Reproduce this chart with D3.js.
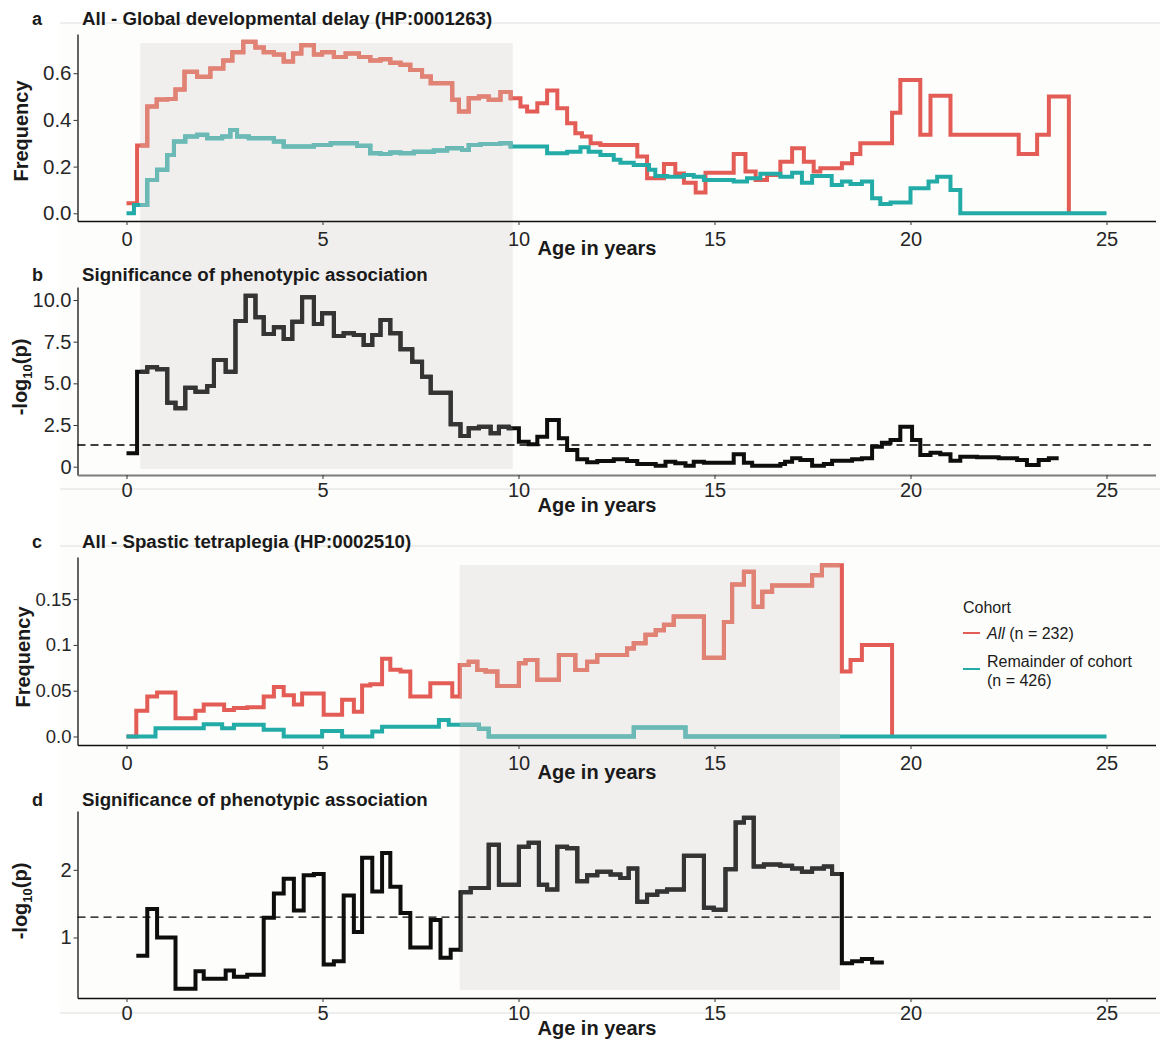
<!DOCTYPE html>
<html><head><meta charset="utf-8">
<script src="https://cdn.jsdelivr.net/npm/d3@7"></script>
<style>
html,body{margin:0;padding:0;background:#fff;}
svg{display:block;font-family:"Liberation Sans",Arial,Helvetica,sans-serif;}
</style></head><body>
<svg id="chart" width="1160" height="1040"></svg>
<script>
// ---------------- data ----------------
const ageTicks = [0, 5, 10, 15, 20, 25];

// Global developmental delay: frequency in the "All" group (step starts, last entry = end)
const ddAgeAll = [0, 0.27, 0.53, 0.77, 1.04, 1.25, 1.48, 1.80, 2.14, 2.47, 2.70, 2.98, 3.29, 3.50, 3.76, 4.01, 4.25, 4.46, 4.78, 4.99,
  5.29, 5.59, 5.93, 6.22, 6.48, 6.73, 6.99, 7.24, 7.54, 7.76, 8.31, 8.48, 8.73, 8.99, 9.24, 9.54, 9.80, 10.05, 10.22, 10.48,
  10.73, 10.99, 11.24, 11.45, 11.62, 11.84, 12.09, 13.03, 13.28, 13.71, 14.00, 14.22, 14.52, 14.77, 15.49, 15.79, 16.05, 16.34, 16.68, 16.98,
  17.28, 17.53, 17.70, 18.25, 18.51, 18.72, 19.53, 19.74, 20.25, 20.51, 21.02, 22.76, 23.23, 23.53, 24.04];
const ddFreqAll = [0.043, 0.29, 0.457, 0.487, 0.49, 0.53, 0.606, 0.585, 0.62, 0.655, 0.69, 0.735, 0.71, 0.69, 0.68, 0.65, 0.685, 0.72, 0.68, 0.69,
  0.67, 0.685, 0.67, 0.655, 0.66, 0.645, 0.636, 0.614, 0.586, 0.557, 0.486, 0.436, 0.493, 0.50, 0.486, 0.52, 0.493, 0.457, 0.436, 0.471,
  0.526, 0.45, 0.386, 0.343, 0.329, 0.30, 0.293, 0.243, 0.15, 0.211, 0.171, 0.131, 0.089, 0.174, 0.254, 0.179, 0.143, 0.164, 0.221, 0.279,
  0.221, 0.179, 0.193, 0.214, 0.254, 0.30, 0.431, 0.571, 0.336, 0.503, 0.336, 0.254, 0.336, 0.50, 0];

// Global developmental delay: frequency in the remainder of the cohort
const ddAgeRest = [0, 0.19, 0.53, 0.78, 1.04, 1.21, 1.50, 1.80, 2.06, 2.44, 2.65, 2.82, 3.12, 3.76, 4.01, 4.78, 5.21, 5.88, 6.22, 6.48,
  6.73, 6.99, 7.33, 7.84, 8.18, 8.56, 8.73, 9.03, 9.54, 9.80, 10.73, 11.24, 11.58, 11.79, 12.09, 12.43, 12.60, 12.94, 13.33, 13.49,
  13.79, 14.22, 14.47, 14.73, 15.49, 15.83, 16.17, 16.68, 16.98, 17.23, 17.49, 17.99, 18.25, 18.47, 18.76, 19.02, 19.23, 19.49, 20.00, 20.46,
  20.68, 21.02, 21.27, 25.00];
const ddFreqRest = [0, 0.036, 0.143, 0.186, 0.25, 0.307, 0.329, 0.336, 0.321, 0.329, 0.357, 0.329, 0.321, 0.307, 0.286, 0.293, 0.30, 0.289, 0.257, 0.254,
  0.26, 0.257, 0.264, 0.269, 0.279, 0.271, 0.293, 0.297, 0.30, 0.286, 0.257, 0.264, 0.283, 0.264, 0.25, 0.229, 0.217, 0.207, 0.186, 0.16,
  0.157, 0.164, 0.157, 0.143, 0.136, 0.15, 0.169, 0.157, 0.174, 0.131, 0.16, 0.121, 0.136, 0.126, 0.136, 0.064, 0.04, 0.046, 0.107, 0.136,
  0.157, 0.10, 0, 0];

// Global developmental delay: -log10(p) of the association
const ddAgeSig = [0, 0.27, 0.53, 0.78, 1.04, 1.25, 1.50, 1.76, 2.06, 2.23, 2.53, 2.78, 3.04, 3.29, 3.50, 3.76, 4.01, 4.23, 4.48, 4.78,
  4.99, 5.29, 5.54, 5.80, 6.05, 6.27, 6.48, 6.73, 6.99, 7.29, 7.54, 7.76, 8.27, 8.52, 8.73, 8.99, 9.29, 9.50, 9.75, 10.01,
  10.26, 10.48, 10.73, 11.03, 11.24, 11.50, 11.75, 12.01, 12.43, 12.77, 13.03, 13.50, 13.75, 14.00, 14.26, 14.47, 14.73, 15.49, 15.75, 15.96,
  16.68, 16.80, 16.98, 17.19, 17.49, 17.79, 18.00, 18.51, 18.76, 19.02, 19.27, 19.49, 19.74, 20.04, 20.25, 20.51, 20.76, 21.02, 21.27, 21.70,
  22.25, 22.72, 22.97, 23.27, 23.53, 23.78];
const ddLogP = [0.8, 5.7, 5.96, 5.84, 3.84, 3.5, 4.74, 4.5, 4.84, 6.4, 5.7, 8.74, 10.26, 8.96, 7.96, 8.36, 7.66, 8.7, 10.16, 8.56,
  9.2, 7.84, 8.0, 7.9, 7.3, 7.9, 8.8, 8.0, 7.04, 6.3, 5.4, 4.44, 2.54, 1.84, 2.3, 2.4, 2.0, 2.4, 2.3, 1.5,
  1.34, 1.8, 2.8, 1.7, 1.0, 0.44, 0.26, 0.34, 0.44, 0.34, 0.16, 0.06, 0.3, 0.2, 0.06, 0.3, 0.24, 0.74, 0.24, 0.06,
  0.16, 0.3, 0.5, 0.4, 0.06, 0.16, 0.36, 0.44, 0.5, 1.2, 1.44, 1.6, 2.4, 1.6, 0.7, 0.84, 0.74, 0.36, 0.6, 0.56,
  0.5, 0.4, 0.1, 0.4, 0.5, 0.5];

// Spastic tetraplegia: frequency in the "All" group
const stAgeAll = [0, 0.25, 0.53, 0.78, 1.25, 1.76, 1.97, 2.49, 2.74, 3.08, 3.50, 3.76, 4.01, 4.27, 4.48, 5.03, 5.50, 5.80, 6.01, 6.22,
  6.52, 6.73, 6.99, 7.24, 7.75, 8.31, 8.50, 8.73, 8.95, 9.16, 9.46, 10.01, 10.18, 10.48, 11.03, 11.45, 11.75, 12.01, 12.77, 12.94,
  13.24, 13.50, 13.71, 13.96, 14.73, 15.24, 15.45, 15.75, 16.00, 16.22, 16.47, 17.49, 17.74, 18.25, 18.47, 18.76, 19.53];
const stFreqAll = [0, 0.028, 0.0436, 0.048, 0.02, 0.028, 0.035, 0.029, 0.031, 0.032, 0.0436, 0.054, 0.045, 0.035, 0.047, 0.0236, 0.04, 0.027, 0.0556, 0.057,
  0.085, 0.073, 0.071, 0.0436, 0.058, 0.0436, 0.078, 0.0817, 0.0726, 0.071, 0.055, 0.08, 0.0835, 0.062, 0.089, 0.0726, 0.0817, 0.089, 0.096, 0.1017,
  0.111, 0.116, 0.122, 0.131, 0.086, 0.125, 0.166, 0.18, 0.1417, 0.158, 0.165, 0.176, 0.187, 0.071, 0.0835, 0.10, 0];

// Spastic tetraplegia: frequency in the remainder of the cohort
const stAgeRest = [0, 0.74, 1.97, 2.44, 2.74, 3.50, 4.01, 4.99, 5.50, 6.27, 6.52, 7.97, 8.22, 8.99, 9.24, 12.94, 14.26, 25.00];
const stFreqRest = [0, 0.009, 0.0134, 0.009, 0.0127, 0.0073, 0, 0.006, 0, 0.0054, 0.0105, 0.018, 0.0127, 0.0084, 0, 0.0098, 0, 0];

// Spastic tetraplegia: -log10(p) of the association
const stAgeSig = [0.25, 0.53, 0.78, 1.25, 1.76, 1.97, 2.53, 2.74, 3.08, 3.50, 3.76, 4.01, 4.27, 4.52, 4.78, 5.03, 5.29, 5.54, 5.80, 6.01,
  6.27, 6.52, 6.73, 6.99, 7.24, 7.76, 8.01, 8.27, 8.52, 8.78, 9.24, 9.50, 10.01, 10.26, 10.52, 10.73, 10.99, 11.24, 11.50, 11.75,
  12.01, 12.35, 12.60, 12.81, 13.03, 13.28, 13.54, 13.79, 14.22, 14.73, 14.98, 15.28, 15.54, 15.75, 16.00, 16.26, 16.68, 16.98, 17.23, 17.49,
  17.79, 18.00, 18.25, 18.51, 18.76, 19.02, 19.32];
const stLogP = [0.73, 1.42, 1.0, 0.24, 0.5, 0.39, 0.51, 0.42, 0.45, 1.29, 1.65, 1.87, 1.4, 1.92, 1.94, 0.6, 0.65, 1.62, 1.08, 2.18,
  1.68, 2.25, 1.75, 1.36, 0.85, 1.26, 0.7, 0.82, 1.67, 1.73, 2.37, 1.78, 2.34, 2.4, 1.78, 1.71, 2.34, 2.32, 1.83, 1.92,
  1.97, 1.93, 1.88, 2.02, 1.53, 1.63, 1.68, 1.71, 2.21, 1.44, 1.41, 2.01, 2.7, 2.77, 2.05, 2.08, 2.06, 2.02, 1.97, 2.02,
  2.05, 1.94, 0.62, 0.65, 0.68, 0.63, 0.63];

// highlighted age windows
const ddWindow = [0.35, 9.85];
const stWindow = [8.5, 18.2];

// significance threshold p = 0.05
const pThreshold = 0.05;

// y tick values and their printed labels
const ddFreqTicks = [0, 0.2, 0.4, 0.6];
const ddFreqLabels = ["0.0", "0.2", "0.4", "0.6"];
const ddSigTicks = [0, 2.5, 5, 7.5, 10];
const ddSigLabels = ["0", "2.5", "5.0", "7.5", "10.0"];
const stFreqTicks = [0, 0.05, 0.1, 0.15];
const stFreqLabels = ["0.0", "0.05", "0.1", "0.15"];
const stSigTicks = [1, 2];
const stSigLabels = ["1", "2"];

const cohortNames = ["All", "Remainder of cohort"];
const cohortSizes = [232, 426];

// ---------------- drawing ----------------
const RED = "#e35c56", RED_IN = "#e08274";
const TEAL = "#23aba7", TEAL_IN = "#6db9b5";
const BLACK = "#0e0e0e", BLACK_IN = "#343434";

const svg = d3.select("#chart");
const x = d3.scaleLinear().domain([-1.25, 26.25]).range([77.5, 1155.5]);
const pts = (ages, vals) => ages.map((a, i) => [a, vals[i]]);

svg.append("rect").attr("x", 0).attr("y", 0).attr("width", 1160).attr("height", 1040).attr("fill", "#fff");
svg.append("rect").attr("x", 60).attr("y", 23).attr("width", 1100).attr("height", 990).attr("fill", "#fdfdfb");

// faint frame lines of the figure boxes
[23, 489, 546, 1013].forEach(yy => {
  svg.append("line").attr("x1", 60).attr("x2", 1160).attr("y1", yy).attr("y2", yy)
    .attr("stroke", "#dedede").attr("stroke-width", 1);
});

// grey windows spanning each pair of panels
const windows = [
  { range: ddWindow, y0: 43, y1: 469, id: "winAB" },
  { range: stWindow, y0: 565, y1: 990, id: "winCD" }
];
const defs = svg.append("defs");
windows.forEach(w => {
  svg.append("rect").attr("x", x(w.range[0])).attr("y", w.y0)
    .attr("width", x(w.range[1]) - x(w.range[0])).attr("height", w.y1 - w.y0)
    .attr("fill", "#f0efee");
  defs.append("clipPath").attr("id", w.id).append("rect")
    .attr("x", x(w.range[0])).attr("y", w.y0 - 30)
    .attr("width", x(w.range[1]) - x(w.range[0])).attr("height", w.y1 - w.y0 + 60);
});

const panels = [
  { top: 34, bottom: 221, dom: [-0.033, 0.768], ticks: ddFreqTicks, labels: ddFreqLabels, yFont: 20.5, xPad: 7, xAxisColor: "#111", xAxisW: 1.3,
    letter: "a", title: "All - Global developmental delay (HP:0001263)", titleY: 25, yTitle: "Frequency", yTitleX: 21, yTitleY: 131,
    ageTitleY: 248, clip: "winAB",
    series: [{ d: pts(ddAgeAll, ddFreqAll), c: RED, ci: RED_IN }, { d: pts(ddAgeRest, ddFreqRest), c: TEAL, ci: TEAL_IN }] },
  { top: 287, bottom: 475, dom: [-0.5, 10.78], ticks: ddSigTicks, labels: ddSigLabels, yFont: 20, xPad: 4, xAxisColor: "#7d7d7d", xAxisW: 2,
    letter: "b", title: "Significance of phenotypic association", titleY: 281, yTitle: "log", yTitleX: 20, yTitleY: 377,
    ageTitleY: 505, clip: "winAB", threshold: true,
    series: [{ d: pts(ddAgeSig, ddLogP), c: BLACK, ci: BLACK_IN }] },
  { top: 557, bottom: 745, dom: [-0.0093, 0.196], ticks: stFreqTicks, labels: stFreqLabels, yFont: 18.5, xPad: 7, xAxisColor: "#111", xAxisW: 1.3,
    letter: "c", title: "All - Spastic tetraplegia (HP:0002510)", titleY: 548, yTitle: "Frequency", yTitleX: 23, yTitleY: 657,
    ageTitleY: 772, clip: "winCD", legend: true,
    series: [{ d: pts(stAgeAll, stFreqAll), c: RED, ci: RED_IN }, { d: pts(stAgeRest, stFreqRest), c: TEAL, ci: TEAL_IN }] },
  { top: 811, bottom: 998, dom: [0.105, 2.87], ticks: stSigTicks, labels: stSigLabels, yFont: 20, xPad: 4, xAxisColor: "#111", xAxisW: 1.3,
    letter: "d", title: "Significance of phenotypic association", titleY: 806, yTitle: "log", yTitleX: 20, yTitleY: 901,
    ageTitleY: 1028, clip: "winCD", threshold: true,
    series: [{ d: pts(stAgeSig, stLogP), c: BLACK, ci: BLACK_IN }] }
];

panels.forEach(p => {
  const y = d3.scaleLinear().domain(p.dom).range([p.bottom, p.top]);
  const g = svg.append("g");

  // axes
  const yAx = g.append("g").attr("transform", `translate(${x.range()[0]},0)`)
    .call(d3.axisLeft(y).tickValues(p.ticks).tickFormat((d, i) => p.labels[i]).tickSize(4).tickSizeOuter(0).tickPadding(2));
  yAx.select(".domain").attr("stroke", "#111").attr("stroke-width", 1.3);
  yAx.selectAll(".tick line").attr("stroke", "#333").attr("stroke-width", 1);
  yAx.selectAll(".tick text").attr("font-size", p.yFont).attr("fill", "#262626").attr("font-family", "Liberation Sans, Arial, sans-serif");

  const xAx = g.append("g").attr("transform", `translate(0,${p.bottom})`)
    .call(d3.axisBottom(x).tickValues(ageTicks).tickFormat(d3.format("d")).tickSize(4).tickSizeOuter(0).tickPadding(p.xPad));
  xAx.select(".domain").attr("stroke", p.xAxisColor).attr("stroke-width", p.xAxisW);
  xAx.selectAll(".tick line").attr("stroke", "#333").attr("stroke-width", 1);
  xAx.selectAll(".tick text").attr("font-size", 20).attr("fill", "#262626").attr("font-family", "Liberation Sans, Arial, sans-serif");

  // threshold line at p = 0.05
  if (p.threshold) {
    const t = -Math.log10(pThreshold);
    g.append("line").attr("x1", x.range()[0]).attr("x2", 1151).attr("y1", y(t)).attr("y2", y(t))
      .attr("stroke", "#000").attr("stroke-width", 1.3).attr("stroke-dasharray", "8,5");
  }

  // step lines, then lighter copies inside the highlighted window
  const line = d3.line().x(d => x(d[0])).y(d => y(d[1])).curve(d3.curveStepAfter);
  p.series.forEach(s => {
    g.append("path").attr("d", line(s.d)).attr("fill", "none").attr("stroke", s.c)
      .attr("stroke-width", 4).attr("stroke-linejoin", "miter").attr("stroke-linecap", "butt");
  });
  p.series.forEach(s => {
    g.append("path").attr("d", line(s.d)).attr("fill", "none").attr("stroke", s.ci)
      .attr("stroke-width", 4).attr("stroke-linejoin", "miter").attr("stroke-linecap", "butt")
      .attr("clip-path", `url(#${p.clip})`);
  });

  // titles
  g.append("text").attr("x", 32).attr("y", p.titleY).attr("font-size", 18).attr("font-weight", "bold")
    .attr("fill", "#1a1a1a").text(p.letter);
  g.append("text").attr("x", 82).attr("y", p.titleY).attr("font-size", 18.7).attr("font-weight", "bold")
    .attr("fill", "#1a1a1a").text(p.title);

  g.append("text").attr("x", 597).attr("y", p.ageTitleY).attr("dy", "0.36em").attr("text-anchor", "middle")
    .attr("font-size", 20).attr("font-weight", "bold").attr("fill", "#1a1a1a").text("Age in years");

  const yt = g.append("text").attr("transform", `translate(${p.yTitleX},${p.yTitleY}) rotate(-90)`)
    .attr("text-anchor", "middle").attr("dy", "0.36em").attr("font-size", 20).attr("font-weight", "bold").attr("fill", "#1a1a1a");
  if (p.yTitle === "log") {
    yt.append("tspan").text("-log");
    yt.append("tspan").attr("font-size", 13).attr("dy", "0.35em").text("10");
    yt.append("tspan").attr("dy", "-0.23em").text("(p)");
  } else {
    yt.text(p.yTitle);
  }

  // legend
  if (p.legend) {
    const lg = g.append("g").attr("font-size", 16).attr("fill", "#1a1a1a");
    lg.append("text").attr("x", 963).attr("y", 613).text("Cohort");
    lg.append("line").attr("x1", 963).attr("x2", 980).attr("y1", 633).attr("y2", 633).attr("stroke", RED).attr("stroke-width", 2);
    const t1 = lg.append("text").attr("x", 987).attr("y", 639);
    t1.append("tspan").attr("font-style", "italic").text(cohortNames[0]);
    t1.append("tspan").text(` (n = ${cohortSizes[0]})`);
    lg.append("line").attr("x1", 963).attr("x2", 980).attr("y1", 669).attr("y2", 669).attr("stroke", TEAL).attr("stroke-width", 2);
    lg.append("text").attr("x", 987).attr("y", 667).text(cohortNames[1]);
    lg.append("text").attr("x", 987).attr("y", 686).text(`(n = ${cohortSizes[1]})`);
  }
});
</script>
</body></html>
